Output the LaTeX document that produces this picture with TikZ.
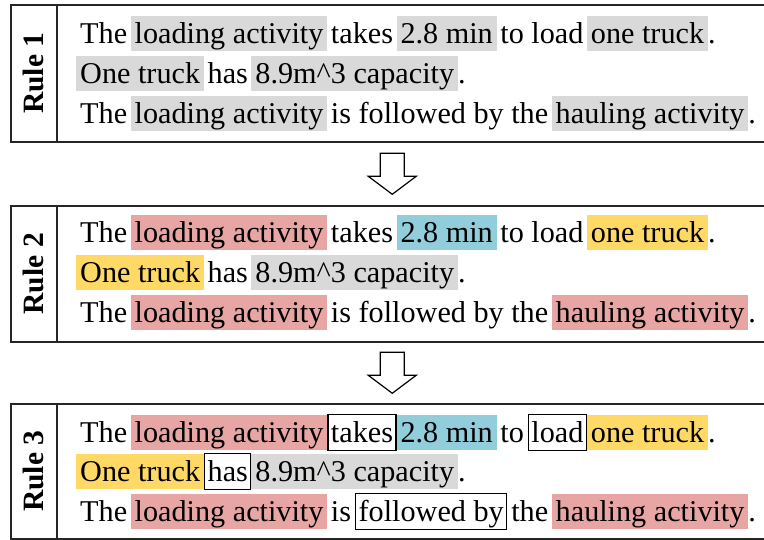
\documentclass[tikz,border=0pt]{standalone}
\usepackage{fontspec}
\setmainfont{Liberation Serif}
\usetikzlibrary{positioning,calc}
\definecolor{hlgray}{RGB}{217,217,217}
\definecolor{hlred}{RGB}{231,166,164}
\definecolor{hlblue}{RGB}{146,205,220}
\definecolor{hlyellow}{RGB}{255,217,102}
\newcommand{\txtfont}{\fontsize{30.2pt}{35pt}\selectfont}
\newcommand{\hlstrut}{\rule[-8pt]{0pt}{35pt}}
% highlight that reaches 4pt into the spaces on both sides
\newcommand{\hlbox}[2]{\kern-4pt\relax{\setlength{\fboxsep}{0pt}\colorbox{#1}{\kern4pt\relax\hlstrut#2\kern4pt\relax}}\kern-4pt\relax}
% same, when a full stop follows
\newcommand{\hlboxe}[2]{\kern-4pt\relax{\setlength{\fboxsep}{0pt}\colorbox{#1}{\kern4pt\relax\hlstrut#2\kern4pt\relax}}}
% framed word
\newcommand{\wbox}[1]{\kern\dimexpr4pt-0.25em\relax{\setlength{\fboxsep}{0pt}\setlength{\fboxrule}{1.2pt}%
  \fbox{\kern\dimexpr0.25em-5.2pt\relax\hlstrut#1\kern\dimexpr0.25em-5.2pt\relax}}\kern\dimexpr4pt-0.25em\relax}

\begin{document}
\begin{tikzpicture}[x=1pt,y=-1pt,
    panel/.style={draw=black!85,line width=1.5pt,minimum width=756pt,inner sep=0pt},
    rulebox/.style={draw=black!85,line width=1.5pt,minimum width=46pt,inner sep=0pt,
                    font=\fontsize{29.5pt}{35pt}\selectfont\bfseries},
    textline/.style={inner sep=0pt,anchor=base west,font=\txtfont},
    blockarrow/.style={draw=black,line width=1.2pt,fill=white,line join=miter}]
  \fill[white] (0,0) rectangle (764,539);
  \useasboundingbox (0,0) rectangle (764,539);

  % panels
  \node[panel,minimum height=137pt,anchor=north west] (p1) at (10,4) {};
  \node[panel,minimum height=136pt,anchor=north west] (p2) at (10,205) {};
  \node[panel,minimum height=135pt,anchor=north west] (p3) at (10,403) {};
  \node[rulebox,minimum height=137pt,anchor=north west] (r1) at (p1.north west) {\rotatebox{90}{Rule 1}};
  \node[rulebox,minimum height=136pt,anchor=north west] (r2) at (p2.north west) {\rotatebox{90}{Rule 2}};
  \node[rulebox,minimum height=135pt,anchor=north west] (r3) at (p3.north west) {\rotatebox{90}{Rule 3}};

  % rule 1
  \node[textline] (t11) at (80,43)
    {The \hlbox{hlgray}{loading activity} takes \hlbox{hlgray}{2.8 min} to load \hlboxe{hlgray}{one truck}.};
  \node[textline] (t12) at (80,83)
    {\hlbox{hlgray}{One truck} has \hlboxe{hlgray}{8.9m\textasciicircum 3 capacity}.};
  \node[textline] (t13) at (80,123)
    {The \hlbox{hlgray}{loading activity} is followed by the \hlboxe{hlgray}{hauling activity}.};

  % rule 2
  \node[textline] (t21) at (80,242)
    {The \hlbox{hlred}{loading activity} takes \hlbox{hlblue}{2.8 min} to load \hlboxe{hlyellow}{one truck}.};
  \node[textline] (t22) at (80,282)
    {\hlbox{hlyellow}{One truck} has \hlboxe{hlgray}{8.9m\textasciicircum 3 capacity}.};
  \node[textline] (t23) at (80,322)
    {The \hlbox{hlred}{loading activity} is followed by the \hlboxe{hlred}{hauling activity}.};

  % rule 3
  \node[textline] (t31) at (80,442)
    {The \hlbox{hlred}{loading activity} \wbox{takes} \hlbox{hlblue}{2.8 min} to \wbox{load} \hlboxe{hlyellow}{one truck}.};
  \node[textline] (t32) at (80,481)
    {\hlbox{hlyellow}{One truck} \wbox{has} \hlboxe{hlgray}{8.9m\textasciicircum 3 capacity}.};
  \node[textline] (t33) at (80,521)
    {The \hlbox{hlred}{loading activity} is \wbox{followed by} the \hlboxe{hlred}{hauling activity}.};

  % arrows between rules
  \coordinate (a1) at ($(p1.south)!0.5!(p2.north)+(3.5,0)$);
  \coordinate (a2) at ($(p2.south)!0.5!(p3.north)+(3.5,0)$);
  \foreach \a in {a1,a2}
    \draw[blockarrow] ($(\a)+(-12,-20.5)$) -- ++(24,0) -- ++(0,23) -- ++(12,0)
      -- ++(-24,18) -- ++(-24,-18) -- ++(12,0) -- cycle;
\end{tikzpicture}
\end{document}
